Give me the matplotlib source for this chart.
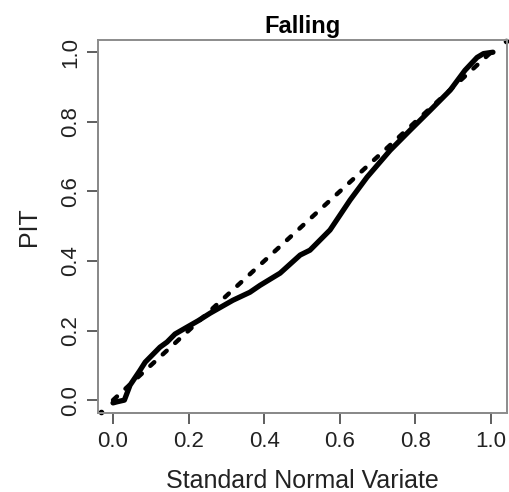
import numpy as np
import matplotlib
matplotlib.use("Agg")
import matplotlib.pyplot as plt

# solid curve: PIT vs standard normal variate
snv = [0.0, 0.01, 0.03, 0.045, 0.071, 0.085, 0.124, 0.143, 0.164, 0.196, 0.225,
       0.257, 0.317, 0.362, 0.389, 0.442, 0.495, 0.521, 0.574, 0.627, 0.672,
       0.733, 0.786, 0.839, 0.892, 0.931, 0.963, 0.98, 1.005]
pit = [-0.008, -0.005, 0.0, 0.043, 0.085, 0.109, 0.152, 0.167, 0.19, 0.21, 0.228,
       0.25, 0.287, 0.31, 0.33, 0.365, 0.417, 0.431, 0.489, 0.575, 0.641,
       0.718, 0.776, 0.833, 0.891, 0.948, 0.985, 0.996, 1.0]

# reference diagonal
diag_x = [0.0, 1.0]
diag_y = [0.0, 1.0]

# corner points
corner_x = [-0.032, 1.04]
corner_y = [-0.034, 1.033]

xticks = [0.0, 0.2, 0.4, 0.6, 0.8, 1.0]
yticks = [0.0, 0.2, 0.4, 0.6, 0.8, 1.0]

plt.rcParams['font.family'] = ['Liberation Sans', 'DejaVu Sans']

fig = plt.figure(figsize=(5.1, 4.92), dpi=100)
ax = fig.add_axes([0.192, 0.1606, 0.802, 0.758])

ax.plot(diag_x, diag_y, color='black', lw=3.2, linestyle=(0, (1.2, 2.6)),
        dash_capstyle='round')
ax.plot(snv, pit, color='black', lw=3.8, solid_capstyle='round',
        solid_joinstyle='round')
ax.plot(corner_x, corner_y, 'o', color='black', ms=3, clip_on=False)

ax.set_xlim(-0.04, 1.042)
ax.set_ylim(-0.037, 1.035)

for s in ax.spines.values():
    s.set_color('#8c8c8c')
    s.set_linewidth(1.4)

# R-style axis lines spanning first to last tick
ax.plot([-0.04, -0.04], [0, 1], color='#333333', lw=1.2, clip_on=False)
ax.plot([0, 1], [-0.037, -0.037], color='#333333', lw=1.2, clip_on=False)

ax.set_xticks(xticks)
ax.set_yticks(yticks)
ax.set_xticklabels(['%.1f' % v for v in xticks])
ax.set_yticklabels(['%.1f' % v for v in yticks], rotation=90, va='center')
ax.tick_params(axis='both', direction='out', length=8, width=1.1,
               color='#333333', labelsize=16, labelcolor='#222222')
ax.tick_params(axis='x', pad=5)
ax.tick_params(axis='y', pad=4)

ax.set_title('Falling', fontsize=17, fontweight='bold', pad=5)
ax.set_xlabel('Standard Normal Variate', fontsize=18, labelpad=12, color='#222222')
ax.set_ylabel('PIT', fontsize=18, labelpad=14, color='#222222')

fig.savefig('out.png', dpi=100)
